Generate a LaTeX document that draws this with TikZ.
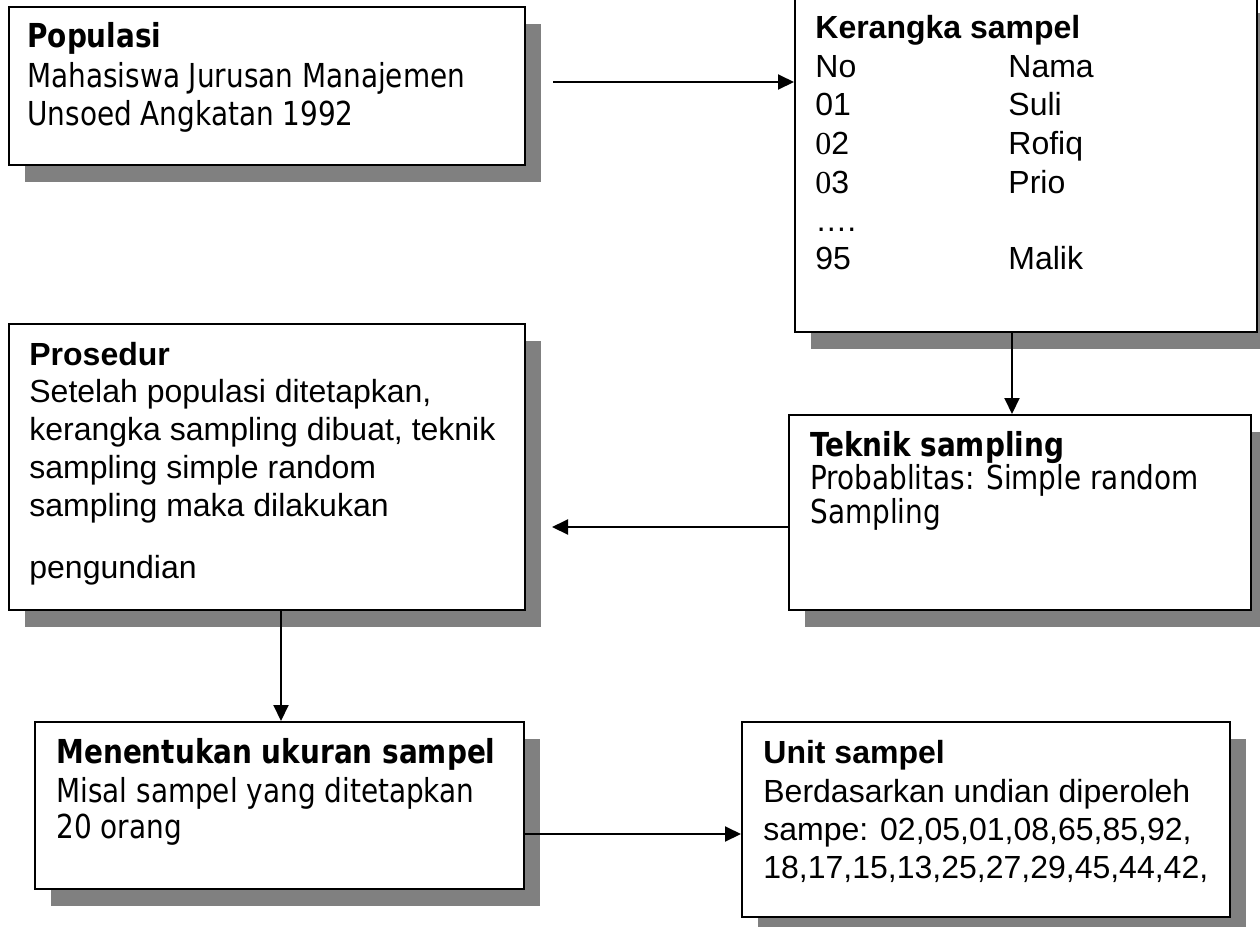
\documentclass[tikz,border=0pt]{standalone}
\usepackage{fontspec}
\setmainfont{Liberation Sans}
\newfontfamily\tahoma[FakeStretch=0.94]{DejaVu Sans Condensed}
\newfontfamily\arialf{Liberation Sans}
\newfontfamily\timesf{Liberation Serif}
\usetikzlibrary{shadows,arrows.meta}
\definecolor{shgray}{HTML}{808080}

\begin{document}
\begin{tikzpicture}[x=0.5pt,y=-0.5pt,
  box/.style={draw=black,line width=1pt,fill=white,inner sep=0pt,
    drop shadow={shadow xshift=8pt,shadow yshift=-8.5pt,fill=shgray,opacity=1}},
  tah/.style={anchor=base west,inner sep=0pt,font=\tahoma\fontsize{16.5}{19}\selectfont},
  tahb/.style={anchor=base west,inner sep=0pt,font=\tahoma\bfseries\fontsize{16.5}{19}\selectfont},
  ari/.style={anchor=base west,inner sep=0pt,font=\arialf\fontsize{16}{19}\selectfont},
  arib/.style={anchor=base west,inner sep=0pt,font=\arialf\bfseries\fontsize{16}{19}\selectfont},
  arr/.style={line width=1pt,-{Triangle[length=8pt,width=7.5pt]}}
]
\useasboundingbox (0,0) rectangle (1260,927);
\clip (0,0) rectangle (1260,927);

% boxes
\node[box,minimum width=258pt,minimum height=79pt] (pop) at (267,86) {};
\node[box,minimum width=231pt,minimum height=168pt] (frame) at (1026,164) {};
\node[box,minimum width=231pt,minimum height=97.5pt] (tek) at (1020,512.5) {};
\node[box,minimum width=258pt,minimum height=143pt] (pros) at (267,467) {};
\node[box,minimum width=244.5pt,minimum height=83.5pt] (ukur) at (279.5,805.5) {};
\node[box,minimum width=244pt,minimum height=97.5pt] (unit) at (986,819.5) {};

% Populasi
\node[tahb] (popT) at (27,47) {Populasi};
\node[tah] (popL1) at (27,87) {Mahasiswa Jurusan Manajemen};
\node[tah] (popL2) at (27,125) {Unsoed Angkatan 1992};

% Kerangka sampel
\node[arib] (frT) at (815,38) {Kerangka sampel};
\node[ari] (frA0) at (815,77) {No};
\node[ari] (frB0) at (1008,77) {Nama};
\node[ari] (frA1) at (815,115) {01};
\node[ari] (frB1) at (1008,115) {Suli};
\node[ari] (frA2) at (815,154) {{\timesf 0}2};
\node[ari] (frB2) at (1008,154) {Rofiq};
\node[ari] (frA3) at (815,193) {{\timesf 0}3};
\node[ari] (frB3) at (1008,193) {Prio};
\node[ari] (frA4) at (815,231) {….};
\node[ari] (frA5) at (815,269) {95};
\node[ari] (frB5) at (1008,269) {Malik};

% Teknik sampling
\node[tahb] (tekT) at (810,456) {Teknik sampling};
\node[tah] (tekL1) at (810,489) {Probablitas: Simple random};
\node[tah] (tekL2) at (810,523) {Sampling};

% Prosedur
\node[arib] (prT) at (29,365) {Prosedur};
\node[ari] (prL1) at (29,402) {Setelah populasi ditetapkan,};
\node[ari] (prL2) at (29,440) {kerangka sampling dibuat, teknik};
\node[ari] (prL3) at (29,478) {sampling simple random};
\node[ari] (prL4) at (29,516) {sampling maka dilakukan};
\node[ari] (prL5) at (29,578) {pengundian};

% Menentukan ukuran sampel
\node[tahb] (ukT) at (56,763) {Menentukan ukuran sampel};
\node[tah] (ukL1) at (56,802) {Misal sampel yang ditetapkan};
\node[tah] (ukL2) at (56,838) {20 orang};

% Unit sampel
\node[arib] (unT) at (763,763) {Unit sampel};
\node[ari] (unL1) at (763,802) {Berdasarkan undian diperoleh};
\node[ari] (unL2) at (763,840) {sampe: 02,05,01,08,65,85,92,};
\node[ari] (unL3) at (763,878) {18,17,15,13,25,27,29,45,44,42,};

% connectors
\coordinate (s1) at (553,82);
\draw[arr] (s1) -- (s1 -| frame.west);
\coordinate (c2) at (1012,0);
\draw[arr] (c2 |- frame.south) -- (c2 |- tek.north);
\coordinate (e3) at (552,527);
\draw[arr] (e3 -| tek.west) -- (e3);
\coordinate (c4) at (281,0);
\draw[arr] (c4 |- pros.south) -- (c4 |- ukur.north);
\coordinate (c5) at (0,834);
\draw[arr] (c5 -| ukur.east) -- (c5 -| unit.west);
\end{tikzpicture}
\end{document}
